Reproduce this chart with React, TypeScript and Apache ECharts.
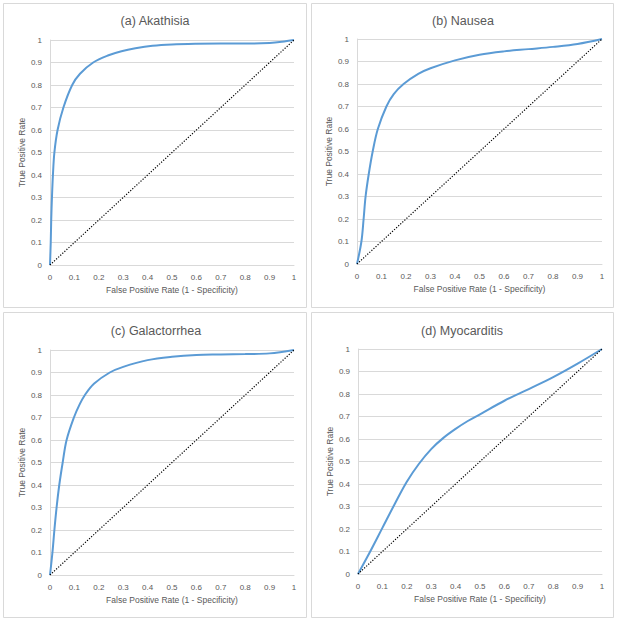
import React, { useEffect, useRef } from "react";
import * as echarts from "echarts";

const panelTitles = ["(a) Akathisia", "(b) Nausea", "(c) Galactorrhea", "(d) Myocarditis"];
const xAxisName = "False Positive Rate (1 - Specificity)";
const yAxisName = "True Positive Rate";

const akathisiaFpr = [0, 0.003, 0.005, 0.008, 0.012, 0.018, 0.031, 0.055, 0.091, 0.123, 0.177, 0.24, 0.293, 0.35, 0.42, 0.5, 0.6, 0.7, 0.8, 0.9, 0.95, 1];
const akathisiaTpr = [0, 0.1, 0.2, 0.3, 0.4, 0.5, 0.6, 0.7, 0.8, 0.85, 0.9, 0.932, 0.95, 0.963, 0.974, 0.98, 0.983, 0.984, 0.984, 0.987, 0.992, 1];

const nauseaFpr = [0, 0.018, 0.027, 0.035, 0.048, 0.064, 0.085, 0.12, 0.15, 0.19, 0.25, 0.3, 0.4, 0.5, 0.6, 0.7, 0.8, 0.9, 1];
const nauseaTpr = [0, 0.1, 0.2, 0.3, 0.4, 0.5, 0.6, 0.7, 0.755, 0.8, 0.845, 0.87, 0.905, 0.93, 0.945, 0.955, 0.965, 0.978, 1];

const galactorrheaFpr = [0, 0.01, 0.018, 0.027, 0.038, 0.052, 0.068, 0.098, 0.12, 0.143, 0.18, 0.245, 0.3, 0.4, 0.5, 0.6, 0.7, 0.8, 0.9, 1];
const galactorrheaTpr = [0, 0.1, 0.2, 0.3, 0.4, 0.5, 0.6, 0.7, 0.755, 0.8, 0.85, 0.9, 0.925, 0.955, 0.97, 0.978, 0.98, 0.982, 0.985, 1];

const myocarditisFpr = [0, 0.05, 0.1, 0.15, 0.2, 0.25, 0.3, 0.35, 0.4, 0.45, 0.5, 0.6, 0.7, 0.8, 0.9, 1];
const myocarditisTpr = [0, 0.1, 0.205, 0.31, 0.41, 0.49, 0.555, 0.605, 0.645, 0.68, 0.71, 0.77, 0.822, 0.875, 0.935, 1];

const diagonalX = [0, 1];
const diagonalY = [0, 1];

const curves = [
  [akathisiaFpr, akathisiaTpr],
  [nauseaFpr, nauseaTpr],
  [galactorrheaFpr, galactorrheaTpr],
  [myocarditisFpr, myocarditisTpr],
];

const FONT = "'Liberation Sans', Arial, sans-serif";
const TEXT = "#595959";
const GRID = "#d9d9d9";
const CURVE = "#5b9bd5";

const gridLayout = [
  { left: 50, top: 40, width: 244, height: 225 },
  { left: 357, top: 39, width: 245, height: 225 },
  { left: 50, top: 350, width: 244, height: 225 },
  { left: 358, top: 349, width: 244, height: 225 },
];
const panels = [
  { x: 3, y: 3, w: 303, h: 304 },
  { x: 311, y: 3, w: 302, h: 304 },
  { x: 3, y: 312, w: 303, h: 305 },
  { x: 311, y: 312, w: 302, h: 305 },
];
const titlePos = [
  { x: 155, y: 21 },
  { x: 463, y: 21 },
  { x: 156, y: 331 },
  { x: 462, y: 331 },
];

const zip = (xs: number[], ys: number[]) => xs.map((x, i) => [x, ys[i]]);

export default function App() {
  const ref = useRef<HTMLDivElement>(null);
  useEffect(() => {
    if (!ref.current) return;
    const chart = echarts.init(ref.current, undefined, { renderer: "svg" });
    const grid = gridLayout.map((g) => ({ ...g, containLabel: false }));
    const xAxis = gridLayout.map((_, i) => ({
      type: "value",
      gridIndex: i,
      min: 0,
      max: 1,
      interval: 0.1,
      name: xAxisName,
      nameLocation: "middle",
      nameGap: 20,
      nameTextStyle: { color: TEXT, fontSize: 8.5, fontFamily: FONT },
      axisLine: { show: true, lineStyle: { color: GRID, width: 1 } },
      axisTick: { show: false },
      splitLine: { show: false },
      axisLabel: { color: TEXT, fontSize: 8, fontFamily: FONT, margin: 8 },
    }));
    const yAxis = gridLayout.map((_, i) => ({
      type: "value",
      gridIndex: i,
      min: 0,
      max: 1,
      interval: 0.1,
      name: yAxisName,
      nameLocation: "middle",
      nameGap: 22,
      nameTextStyle: { color: TEXT, fontSize: 8.5, fontFamily: FONT },
      axisLine: { show: true, lineStyle: { color: GRID, width: 1 } },
      axisTick: { show: false },
      splitLine: { show: true, lineStyle: { color: GRID, width: 1 } },
      axisLabel: { color: TEXT, fontSize: 8, fontFamily: FONT, margin: 8 },
    }));
    const series: any[] = [];
    curves.forEach(([xs, ys], i) => {
      series.push({
        type: "line",
        xAxisIndex: i,
        yAxisIndex: i,
        data: zip(xs, ys),
        smooth: 0.35,
        showSymbol: false,
        symbol: "none",
        lineStyle: { color: CURVE, width: 2 },
        z: 3,
      });
      series.push({
        type: "line",
        xAxisIndex: i,
        yAxisIndex: i,
        data: zip(diagonalX, diagonalY),
        showSymbol: false,
        symbol: "none",
        lineStyle: { color: "#000000", width: 1.2, type: [1.2, 1.6] },
        z: 4,
      });
    });
    const graphic: any[] = [];
    panels.forEach((p) => {
      graphic.push({
        type: "rect",
        shape: { x: p.x + 0.5, y: p.y + 0.5, width: p.w, height: p.h },
        style: { fill: "none", stroke: GRID, lineWidth: 1 },
        z: -1,
        silent: true,
      });
    });
    titlePos.forEach((t, i) => {
      graphic.push({
        type: "text",
        x: t.x,
        y: t.y,
        style: {
          text: panelTitles[i],
          textAlign: "center",
          textVerticalAlign: "middle",
          fill: TEXT,
          fontSize: 12.5,
          fontFamily: FONT,
        },
      });
    });
    chart.setOption({
      animation: false,
      backgroundColor: "#ffffff",
      grid,
      xAxis,
      yAxis,
      series,
      graphic,
    });
    return () => chart.dispose();
  }, []);
  return (
    <div
      ref={ref}
      style={{ position: "fixed", left: 0, top: 0, width: 619, height: 621 }}
    />
  );
}
